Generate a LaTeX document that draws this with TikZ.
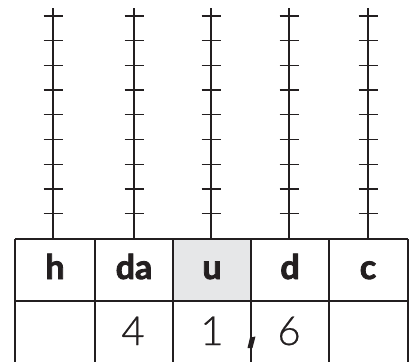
\documentclass[tikz,border=0pt]{standalone}
\usepackage{fontspec}
\setmainfont{Lato}
\newfontfamily\heavyfont{Lato}[BoldFeatures={FakeBold=2.5}]
\newfontfamily\lightfont{Lato Light}[FakeBold=0.6]
\definecolor{rod}{HTML}{231F20}
\definecolor{cellgrey}{HTML}{E6E7E8}
\begin{document}
\begin{tikzpicture}[x=1pt,y=-1pt,
  rodline/.style={draw=rod,line width=2.3pt},
  tickline/.style={draw=rod,line width=1.3pt},
  grid/.style={draw=rod,line width=1.7pt},
  head/.style={font=\heavyfont\bfseries\fontsize{34}{34}\selectfont,text=rod,inner sep=0pt,anchor=base},
  digit/.style={font=\lightfont\fontsize{40}{40}\selectfont,text=rod,inner sep=0pt,anchor=base}]
\useasboundingbox (0,0) rectangle (411,362);
\fill[cellgrey] (173,239) rectangle (251,301);
% rods
\foreach \x in {53,134,211,289,368}{
  \draw[rodline] (\x,8) -- (\x,239);
  \foreach \y in {16,40.7,65.3,90,114.7,139.3,164.3,189,213.3}
    \draw[tickline] (\x-9.5,\y) -- (\x+9.5,\y);
}
% table
\draw[grid] (15,239) -- (408,239);
\draw[grid] (15,301) -- (408,301);
\foreach \x in {15,95,173,251,329,408}
  \draw[grid] (\x,239) -- (\x,362);
\node[head] (h) at (55,279) {h};
\node[head] (da) at (134,279) {da};
\node[head] (u) at (212,279) {u};
\node[head] (d) at (290,279) {d};
\node[head] (c) at (368,279) {c};
\node[digit] (n4) at (133,345) {4};
\node[digit] (n1) at (212,345) {1};
\node[digit] (n6) at (289,345) {6};
\fill[rod] (250,337.5) -- (255.5,336.5) -- (252.5,348) -- (247.5,348) -- cycle;
\end{tikzpicture}
\end{document}
